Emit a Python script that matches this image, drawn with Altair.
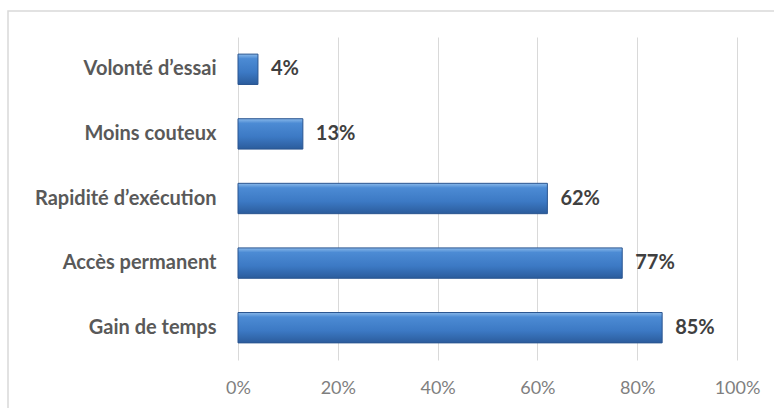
import altair as alt
import pandas as pd

categories = ["Volonté d’essai", "Moins couteux", "Rapidité d’exécution", "Accès permanent", "Gain de temps"]
values = [0.04, 0.13, 0.62, 0.77, 0.85]
labels = ["4%", "13%", "62%", "77%", "85%"]

df = pd.DataFrame({"cat": categories, "val": values, "lab": labels})

FONT = "Lato"

y_enc = alt.Y("cat:N", sort=categories, title=None,
              scale=alt.Scale(paddingInner=0.53, paddingOuter=0.265),
              axis=alt.Axis(domain=False, ticks=False, labelFont=FONT, labelFontSize=20,
                            labelFontWeight="bold", labelColor="#595959", labelPadding=22,
                            labelLimit=400, grid=False))
x_enc = alt.X("val:Q", title=None,
              scale=alt.Scale(domain=[0, 1], nice=False),
              axis=alt.Axis(values=[0, 0.2, 0.4, 0.6, 0.8, 1.0], format=".0%", domain=False,
                            ticks=False, labelFont=FONT, labelFontSize=18, labelColor="#7f7f7f",
                            labelPadding=19, labelFlush=False, labelOverlap=False,
                            grid=True, gridColor="#d9d9d9", gridWidth=1))

grad = alt.Gradient(
    gradient="linear",
    stops=[
        alt.GradientStop(color="#8ab9ea", offset=0),
        alt.GradientStop(color="#4c8bd4", offset=0.15),
        alt.GradientStop(color="#3c79c4", offset=0.6),
        alt.GradientStop(color="#2b5c9c", offset=1),
    ],
    x1=0, x2=0, y1=0, y2=1,
)

bars = alt.Chart(df).mark_bar(fill=grad, stroke="#2a5590", strokeWidth=1).encode(x=x_enc, y=y_enc)

text = alt.Chart(df).mark_text(align="left", baseline="middle", dx=13, font=FONT, fontSize=20,
                               fontWeight="bold", color="#404040").encode(
    x=x_enc, y=y_enc, text="lab:N")

border = alt.Chart(pd.DataFrame({"a": [0]})).mark_rect(fill=None, stroke="#d9d9d9", strokeWidth=1.5).encode(
    x=alt.value(-230), x2=alt.value(560), y=alt.value(-26), y2=alt.value(80 + 323))

chart = alt.layer(border, bars, text).properties(
    width=499, height=323,
    padding={"left": 238, "top": 37, "right": 37, "bottom": 48},
    autosize=alt.AutoSizeParams(type="none"),
    background="white",
).configure_view(stroke=None)

chart.save("out.html", embed_options={"renderer": "svg", "actions": False})
